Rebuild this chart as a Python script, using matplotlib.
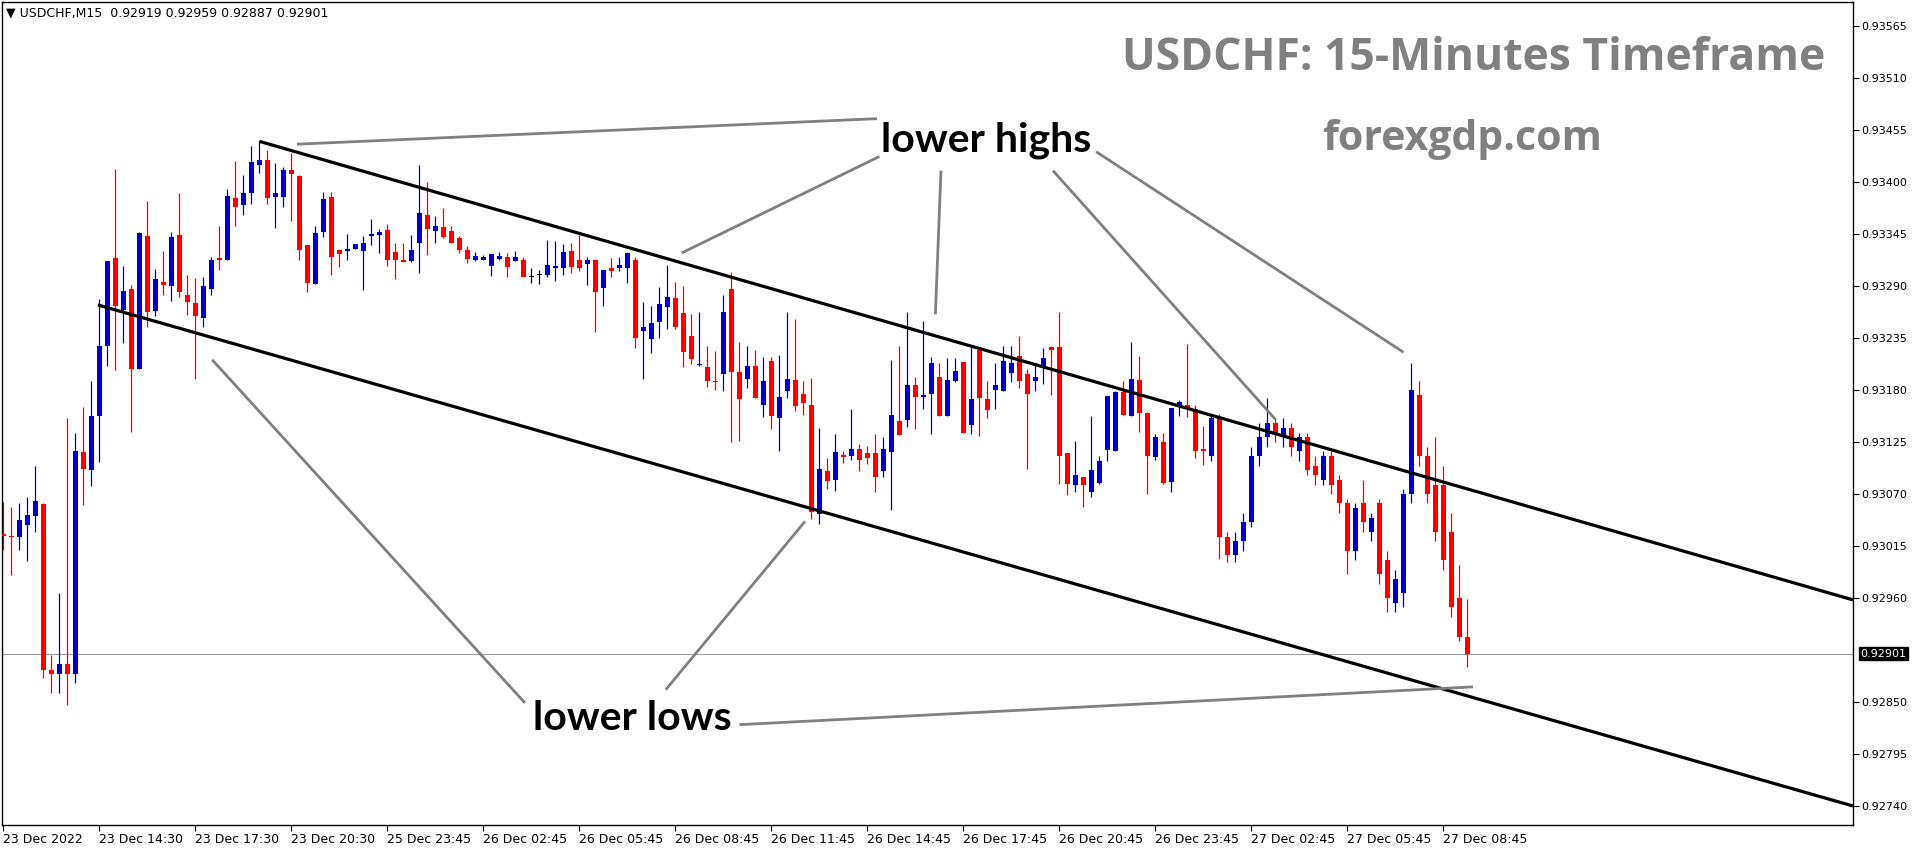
import numpy as np
import matplotlib
matplotlib.use("Agg")
import matplotlib.pyplot as plt

# USDCHF M15 candles (open, high, low, close)
opens = [
    0.93028, 0.93026, 0.93025, 0.93037, 0.93047, 0.93059, 0.92884, 0.92880, 0.92890, 0.92880,
    0.93114, 0.93095, 0.93153, 0.93227, 0.93320, 0.93265, 0.93287, 0.93202, 0.93343, 0.93264,
    0.93294, 0.93290, 0.93344, 0.93281, 0.93272, 0.93256, 0.93287, 0.93320, 0.93318, 0.93383,
    0.93376, 0.93388, 0.93418, 0.93423, 0.93384, 0.93384, 0.93413, 0.93406, 0.93333, 0.93292,
    0.93347, 0.93384, 0.93328, 0.93327, 0.93329, 0.93327, 0.93343, 0.93344, 0.93349, 0.93326,
    0.93317, 0.93316, 0.93335, 0.93365, 0.93348, 0.93352, 0.93348, 0.93341, 0.93328, 0.93317,
    0.93318, 0.93311, 0.93319, 0.93321, 0.93316, 0.93318, 0.93299, 0.93302, 0.93302, 0.93309,
    0.93309, 0.93327, 0.93318, 0.93313, 0.93318, 0.93288, 0.93309, 0.93309, 0.93309, 0.93317,
    0.93242, 0.93234, 0.93252, 0.93268, 0.93277, 0.93261, 0.93237, 0.93206, 0.93204, 0.93190,
    0.93197, 0.93287, 0.93199, 0.93192, 0.93205, 0.93164, 0.93211, 0.93150, 0.93179, 0.93191,
    0.93176, 0.93164, 0.93049, 0.93094, 0.93085, 0.93111, 0.93110, 0.93118, 0.93113, 0.93113,
    0.93094, 0.93114, 0.93147, 0.93148, 0.93185, 0.93173, 0.93176, 0.93194, 0.93152, 0.93189,
    0.93210, 0.93143, 0.93222, 0.93171, 0.93180, 0.93179, 0.93198, 0.93216, 0.93197, 0.93190,
    0.93205, 0.93225, 0.93225, 0.93113, 0.93080, 0.93088, 0.93072, 0.93082, 0.93117, 0.93116,
    0.93178, 0.93152, 0.93191, 0.93156, 0.93109, 0.93125, 0.93083, 0.93163, 0.93164, 0.93160,
    0.93118, 0.93110, 0.93150, 0.93024, 0.93005, 0.93020, 0.93040, 0.93110, 0.93130, 0.93145,
    0.93130, 0.93140, 0.93115, 0.93130, 0.93100, 0.93085, 0.93110, 0.93085, 0.93060, 0.93010,
    0.93060, 0.93030, 0.93060, 0.93000, 0.92955, 0.92965, 0.93070, 0.93175, 0.93110, 0.93080,
    0.93080, 0.93030, 0.92960, 0.92919,
]
highs = [
    0.93062, 0.93056, 0.93061, 0.93067, 0.93100, 0.93060, 0.92900, 0.92965, 0.93150, 0.93134,
    0.93162, 0.93189, 0.93276, 0.93316, 0.93414, 0.93311, 0.93291, 0.93347, 0.93380, 0.93308,
    0.93327, 0.93347, 0.93388, 0.93302, 0.93298, 0.93300, 0.93321, 0.93353, 0.93393, 0.93422,
    0.93407, 0.93438, 0.93443, 0.93434, 0.93420, 0.93416, 0.93431, 0.93407, 0.93333, 0.93354,
    0.93389, 0.93389, 0.93329, 0.93345, 0.93334, 0.93343, 0.93361, 0.93350, 0.93356, 0.93335,
    0.93336, 0.93344, 0.93418, 0.93400, 0.93364, 0.93372, 0.93354, 0.93343, 0.93332, 0.93326,
    0.93323, 0.93324, 0.93326, 0.93325, 0.93327, 0.93321, 0.93309, 0.93307, 0.93339, 0.93338,
    0.93334, 0.93335, 0.93344, 0.93321, 0.93319, 0.93307, 0.93320, 0.93321, 0.93326, 0.93321,
    0.93273, 0.93269, 0.93289, 0.93312, 0.93294, 0.93290, 0.93260, 0.93262, 0.93227, 0.93221,
    0.93281, 0.93305, 0.93231, 0.93227, 0.93222, 0.93215, 0.93215, 0.93217, 0.93262, 0.93255,
    0.93190, 0.93193, 0.93140, 0.93108, 0.93133, 0.93116, 0.93160, 0.93123, 0.93121, 0.93133,
    0.93130, 0.93212, 0.93227, 0.93262, 0.93194, 0.93253, 0.93215, 0.93209, 0.93214, 0.93214,
    0.93210, 0.93225, 0.93222, 0.93190, 0.93209, 0.93227, 0.93227, 0.93237, 0.93202, 0.93209,
    0.93224, 0.93227, 0.93262, 0.93113, 0.93126, 0.93088, 0.93152, 0.93110, 0.93174, 0.93179,
    0.93189, 0.93231, 0.93216, 0.93157, 0.93133, 0.93135, 0.93161, 0.93169, 0.93229, 0.93164,
    0.93142, 0.93155, 0.93155, 0.93030, 0.93030, 0.93050, 0.93120, 0.93145, 0.93172, 0.93150,
    0.93150, 0.93145, 0.93135, 0.93135, 0.93110, 0.93115, 0.93115, 0.93090, 0.93065, 0.93060,
    0.93085, 0.93050, 0.93065, 0.93010, 0.92990, 0.93075, 0.93209, 0.93190, 0.93120, 0.93130,
    0.93100, 0.93050, 0.92995, 0.92959,
]
lows = [
    0.93011, 0.92984, 0.93011, 0.92999, 0.93030, 0.92875, 0.92860, 0.92860, 0.92847, 0.92870,
    0.93058, 0.93078, 0.93104, 0.93205, 0.93201, 0.93230, 0.93136, 0.93202, 0.93247, 0.93258,
    0.93280, 0.93274, 0.93278, 0.93259, 0.93192, 0.93247, 0.93280, 0.93307, 0.93318, 0.93353,
    0.93365, 0.93377, 0.93410, 0.93377, 0.93351, 0.93374, 0.93359, 0.93317, 0.93284, 0.93292,
    0.93342, 0.93302, 0.93310, 0.93317, 0.93329, 0.93286, 0.93333, 0.93325, 0.93311, 0.93297,
    0.93315, 0.93315, 0.93304, 0.93323, 0.93335, 0.93341, 0.93335, 0.93325, 0.93314, 0.93316,
    0.93317, 0.93301, 0.93317, 0.93300, 0.93316, 0.93299, 0.93293, 0.93292, 0.93299, 0.93295,
    0.93302, 0.93304, 0.93306, 0.93291, 0.93241, 0.93269, 0.93299, 0.93306, 0.93293, 0.93224,
    0.93192, 0.93219, 0.93235, 0.93245, 0.93245, 0.93204, 0.93207, 0.93205, 0.93183, 0.93180,
    0.93179, 0.93125, 0.93126, 0.93182, 0.93172, 0.93151, 0.93139, 0.93116, 0.93172, 0.93158,
    0.93154, 0.93044, 0.93038, 0.93075, 0.93073, 0.93103, 0.93106, 0.93094, 0.93102, 0.93072,
    0.93088, 0.93053, 0.93132, 0.93141, 0.93139, 0.93160, 0.93133, 0.93153, 0.93152, 0.93188,
    0.93135, 0.93133, 0.93131, 0.93150, 0.93160, 0.93179, 0.93188, 0.93182, 0.93096, 0.93179,
    0.93186, 0.93175, 0.93081, 0.93069, 0.93072, 0.93056, 0.93067, 0.93081, 0.93105, 0.93116,
    0.93154, 0.93152, 0.93136, 0.93070, 0.93106, 0.93081, 0.93072, 0.93153, 0.93151, 0.93108,
    0.93101, 0.93105, 0.93001, 0.92998, 0.92998, 0.93010, 0.93035, 0.93100, 0.93120, 0.93125,
    0.93120, 0.93110, 0.93105, 0.93090, 0.93080, 0.93080, 0.93070, 0.93050, 0.92985, 0.93000,
    0.93030, 0.93020, 0.92975, 0.92945, 0.92945, 0.92950, 0.93060, 0.93100, 0.93060, 0.93020,
    0.92990, 0.92940, 0.92915, 0.92887,
]
closes = [
    0.93026, 0.93024, 0.93042, 0.93048, 0.93063, 0.92884, 0.92880, 0.92890, 0.92880, 0.93115,
    0.93096, 0.93152, 0.93227, 0.93316, 0.93269, 0.93285, 0.93202, 0.93346, 0.93262, 0.93297,
    0.93291, 0.93342, 0.93284, 0.93273, 0.93258, 0.93290, 0.93317, 0.93317, 0.93385, 0.93374,
    0.93388, 0.93421, 0.93423, 0.93383, 0.93388, 0.93413, 0.93408, 0.93328, 0.93293, 0.93346,
    0.93382, 0.93321, 0.93324, 0.93329, 0.93334, 0.93336, 0.93345, 0.93347, 0.93317, 0.93317,
    0.93315, 0.93328, 0.93367, 0.93350, 0.93354, 0.93342, 0.93335, 0.93328, 0.93319, 0.93322,
    0.93321, 0.93324, 0.93322, 0.93310, 0.93321, 0.93299, 0.93299, 0.93302, 0.93312, 0.93311,
    0.93326, 0.93310, 0.93309, 0.93317, 0.93284, 0.93307, 0.93306, 0.93312, 0.93325, 0.93235,
    0.93247, 0.93251, 0.93271, 0.93278, 0.93247, 0.93220, 0.93213, 0.93207, 0.93190, 0.93188,
    0.93262, 0.93199, 0.93170, 0.93205, 0.93172, 0.93190, 0.93153, 0.93173, 0.93192, 0.93163,
    0.93166, 0.93051, 0.93096, 0.93084, 0.93114, 0.93109, 0.93118, 0.93106, 0.93108, 0.93088,
    0.93118, 0.93154, 0.93132, 0.93185, 0.93173, 0.93175, 0.93209, 0.93153, 0.93191, 0.93200,
    0.93135, 0.93170, 0.93172, 0.93159, 0.93185, 0.93211, 0.93209, 0.93190, 0.93176, 0.93194,
    0.93214, 0.93222, 0.93110, 0.93081, 0.93090, 0.93080, 0.93095, 0.93105, 0.93174, 0.93178,
    0.93154, 0.93192, 0.93156, 0.93110, 0.93130, 0.93082, 0.93161, 0.93167, 0.93160, 0.93116,
    0.93115, 0.93150, 0.93024, 0.93005, 0.93020, 0.93040, 0.93110, 0.93130, 0.93145, 0.93135,
    0.93140, 0.93120, 0.93130, 0.93095, 0.93090, 0.93110, 0.93080, 0.93060, 0.93010, 0.93055,
    0.93040, 0.93045, 0.92985, 0.92960, 0.92980, 0.93070, 0.93180, 0.93110, 0.93070, 0.93030,
    0.93000, 0.92950, 0.92919, 0.92901,
]

time_labels = [
    "23 Dec 2022", "23 Dec 14:30", "23 Dec 17:30", "23 Dec 20:30", "25 Dec 23:45",
    "26 Dec 02:45", "26 Dec 05:45", "26 Dec 08:45", "26 Dec 11:45", "26 Dec 14:45",
    "26 Dec 17:45", "26 Dec 20:45", "26 Dec 23:45", "27 Dec 02:45", "27 Dec 05:45",
    "27 Dec 08:45",
]
price_ticks = [0.92740, 0.92795, 0.92850, 0.92960, 0.93015, 0.93070, 0.93125, 0.93180,
               0.93235, 0.93290, 0.93345, 0.93400, 0.93455, 0.93510, 0.93565]
last_price = 0.92901

# channel lines (bar index, price)
upper_channel = ([32, 231.2], [0.93443, 0.92958])
lower_channel = ([11.8, 231.2], [0.93270, 0.92740])

# grey pointer lines (bar index pairs, price pairs)
high_pointers = [
    ([36.7, 109.2], [0.93440, 0.93467]),
    ([84.8, 109.5], [0.93325, 0.93427]),
    ([117.2, 116.5], [0.93412, 0.93260]),
    ([131.2, 159.0], [0.93412, 0.93149]),
    ([136.6, 175.0], [0.93432, 0.93220]),
]
low_pointers = [
    ([26.1, 65.2], [0.93212, 0.92849]),
    ([82.8, 100.2], [0.92863, 0.93041]),
    ([92.0, 183.7], [0.92826, 0.92866]),
]

BLUE = "#0000cc"
RED = "#ff0000"
GREY = "#808080"

W, H = 1916, 850
fig = plt.figure(figsize=(W / 100, H / 100), dpi=100)
ax = fig.add_axes([2 / W, 25 / H, 1851 / W, 823 / H])

o = np.array(opens)
h = np.array(highs)
l = np.array(lows)
c = np.array(closes)
x = np.arange(len(o))
colors = np.where(c > o, BLUE, np.where(c < o, RED, "black"))

ax.axhline(last_price, color="#a0a0a0", lw=0.8, zorder=1)
ax.vlines(x, l, h, colors=colors, lw=0.9, zorder=2)
body = np.maximum(np.abs(c - o), 0.000011)
ax.bar(x, body, bottom=np.minimum(o, c), width=0.62, color=colors, lw=0, zorder=3)

for xs, ys in (upper_channel, lower_channel):
    ax.plot(xs, ys, color="black", lw=2.3, solid_capstyle="butt", zorder=4)
for xs, ys in high_pointers + low_pointers:
    ax.plot(xs, ys, color=GREY, lw=2.0, solid_capstyle="butt", zorder=4)

ax.set_xlim(-0.17, 231.2)
ax.set_ylim(0.927199, 0.935904)

ax.set_xticks(np.arange(len(time_labels)) * 12)
ax.set_xticklabels(time_labels, ha="left", fontsize=9)
ax.yaxis.tick_right()
ax.set_yticks(price_ticks)
ax.set_yticklabels([f"{p:.5f}" for p in price_ticks], fontsize=8)
ax.tick_params(axis="both", direction="out", length=4, width=0.8, pad=2)
for s in ax.spines.values():
    s.set_linewidth(1.0)
    s.set_color("black")

ax.text(1.004, last_price, f"{last_price:.5f}", transform=ax.get_yaxis_transform(),
        fontsize=8, color="white", va="center", ha="left",
        bbox=dict(facecolor="black", edgecolor="black", pad=1.2))

fig.text(6 / W, 1 - 13 / H,
         "\u25bc USDCHF,M15  0.92919 0.92959 0.92887 0.92901",
         fontsize=9, va="center", ha="left")

fig.text(1825 / W, 1 - 59 / H, "USDCHF: 15-Minutes Timeframe", color=GREY,
         fontsize=32, fontweight="bold", family="Open Sans", ha="right", va="center")
fig.text(1462 / W, 1 - 140 / H, "forexgdp.com", color=GREY,
         fontsize=29.5, fontweight="bold", family="Open Sans", ha="center", va="center")
fig.text(986 / W, 1 - 140 / H, "lower highs", color="black",
         fontsize=29.5, fontweight="bold", family="Lato", ha="center", va="center")
fig.text(632 / W, 1 - 718 / H, "lower lows", color="black",
         fontsize=29.5, fontweight="bold", family="Lato", ha="center", va="center")

fig.savefig("out.png", dpi=100, facecolor="white")
